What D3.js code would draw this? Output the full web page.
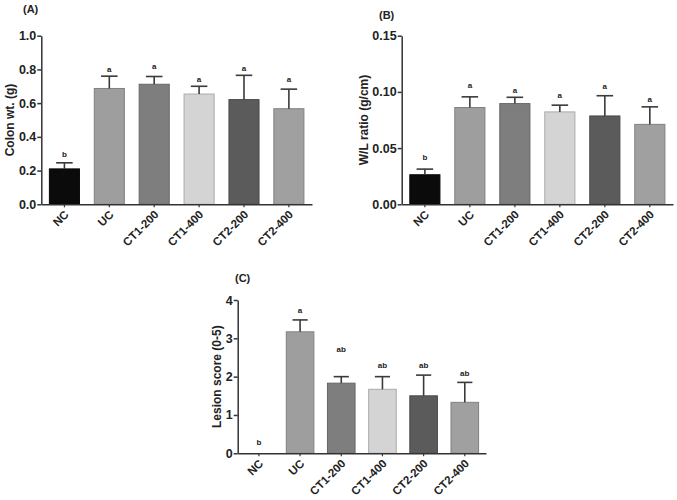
<!DOCTYPE html>
<html><head><meta charset="utf-8">
<script src="https://cdn.jsdelivr.net/npm/d3@7"></script>
<style>
body{margin:0;background:#fff;}
text{font-family:"Liberation Sans",Arial,sans-serif;font-weight:bold;fill:#222;}
</style></head>
<body>
<svg id="chart" width="677" height="500"></svg>
<script>
const groups = ["NC","UC","CT1-200","CT1-400","CT2-200","CT2-400"];
const barColors = ["#0b0b0b","#9e9e9e","#7e7e7e","#d4d4d4","#5b5b5b","#a0a0a0"];

const colonWt    = [0.210,0.687,0.712,0.654,0.621,0.567];
const colonWtSem = [0.036,0.073,0.046,0.046,0.144,0.116];
const colonLetters   = ["b","a","a","a","a","a"];
const colonLetterAt  = [0.298,0.802,0.820,0.743,0.808,0.741];
const colonTicks = [0,0.2,0.4,0.6,0.8,1.0];

const wlRatio    = [0.0263,0.0861,0.0896,0.0822,0.0786,0.0711];
const wlRatioSem = [0.0050,0.0095,0.0056,0.0060,0.0180,0.0156];
const wlLetters  = ["b","a","a","a","a","a"];
const wlLetterAt = [0.0421,0.1055,0.1010,0.0972,0.1052,0.0934];
const wlTicks = [0,0.05,0.10,0.15];

const lesion    = [0,3.17,1.83,1.67,1.50,1.33];
const lesionSem = [0,0.31,0.17,0.33,0.54,0.52];
const lesionLetters  = ["b","a","ab","ab","ab","ab"];
const lesionLetterAt = [0.28,3.74,2.72,2.28,2.28,2.09];
const lesionTicks = [0,1,2,3,4];

const svg = d3.select("#chart");

function panel(cfg){
  const g = svg.append("g");
  const x = d3.scaleBand().domain(groups).range([cfg.x0,cfg.x1]).paddingInner(0.33).paddingOuter(0.18);
  const y = d3.scaleLinear().domain(cfg.domain).range([cfg.y0,cfg.y1]);
  const data = groups.map((k,i)=>({k,v:cfg.values[i],e:cfg.sem[i],l:cfg.letters[i],la:cfg.letterAt[i],c:barColors[i]}));

  g.selectAll("rect.bar").data(data.filter(d=>d.v>0)).join("rect")
    .attr("x",d=>x(d.k)).attr("width",x.bandwidth())
    .attr("y",d=>y(d.v)).attr("height",d=>y(0)-y(d.v))
    .attr("fill",d=>d.c).attr("stroke",d=>d3.color(d.c).darker(0.6)).attr("stroke-width",1);

  const cap = x.bandwidth()*0.55;
  const eb = g.selectAll("g.err").data(data.filter(d=>d.e>0)).join("g");
  eb.append("line").attr("x1",d=>x(d.k)+x.bandwidth()/2).attr("x2",d=>x(d.k)+x.bandwidth()/2)
    .attr("y1",d=>y(d.v)).attr("y2",d=>y(d.v+d.e)).attr("stroke","#3a3a3a").attr("stroke-width",1.6);
  eb.append("line").attr("x1",d=>x(d.k)+x.bandwidth()/2-cap/2).attr("x2",d=>x(d.k)+x.bandwidth()/2+cap/2)
    .attr("y1",d=>y(d.v+d.e)).attr("y2",d=>y(d.v+d.e)).attr("stroke","#3a3a3a").attr("stroke-width",1.6);

  g.selectAll("text.let").data(data).join("text")
    .attr("x",d=>x(d.k)+x.bandwidth()/2).attr("y",d=>y(d.la)).attr("dy","0.32em")
    .attr("text-anchor","middle").attr("font-size",8).text(d=>d.l);

  const ya = g.append("g").attr("transform",`translate(${cfg.x0},0)`)
    .call(d3.axisLeft(y).tickValues(cfg.ticks).tickFormat(d3.format(cfg.fmt)).tickSize(4).tickPadding(1).tickSizeOuter(0));
  ya.select(".domain").attr("stroke","#333").attr("stroke-width",1.5);
  ya.selectAll(".tick line").attr("stroke","#333").attr("stroke-width",1.5);
  ya.selectAll(".tick text").attr("font-size",12.5).attr("fill","#222").style("font-family",'"Liberation Sans",Arial,sans-serif').style("font-weight","bold");

  const xa = g.append("g").attr("transform",`translate(0,${cfg.y0})`)
    .call(d3.axisBottom(x).tickSize(3).tickSizeOuter(0).tickFormat(""));
  xa.select(".domain").attr("stroke","#333").attr("stroke-width",1.5);
  xa.selectAll(".tick line").attr("stroke","#333").attr("stroke-width",1.2);
  g.selectAll("text.xl").data(groups).join("text")
    .attr("transform",d=>`translate(${x(d)+x.bandwidth()/2+5},${cfg.y0+11}) rotate(-45)`)
    .attr("text-anchor","end").attr("font-size",11.5).text(d=>d);

  g.append("text").attr("transform",`translate(${cfg.tx},${(cfg.y0+cfg.y1)/2}) rotate(-90)`)
    .attr("text-anchor","middle").attr("dy","0.35em").attr("font-size",12).text(cfg.title);

  g.append("text").attr("x",cfg.lx).attr("y",cfg.ly).attr("font-size",11).text(cfg.label);
}

panel({x0:41.3,x1:312,y0:204.3,y1:35.7,domain:[0,1.0],values:colonWt,sem:colonWtSem,letters:colonLetters,letterAt:colonLetterAt,
  ticks:colonTicks,fmt:".1f",title:"Colon wt. (g)",tx:10,label:"(A)",lx:23,ly:13});
panel({x0:401.7,x1:673,y0:204.3,y1:35.7,domain:[0,0.15],values:wlRatio,sem:wlRatioSem,letters:wlLetters,letterAt:wlLetterAt,
  ticks:wlTicks,fmt:".2f",title:"W/L ratio (g/cm)",tx:364,label:"(B)",lx:379,ly:19});
panel({x0:237.7,x1:486,y0:453.3,y1:300,domain:[0,4],values:lesion,sem:lesionSem,letters:lesionLetters,letterAt:lesionLetterAt,
  ticks:lesionTicks,fmt:"d",title:"Lesion score (0-5)",tx:217,label:"(C)",lx:235,ly:282});
</script>
</body></html>
